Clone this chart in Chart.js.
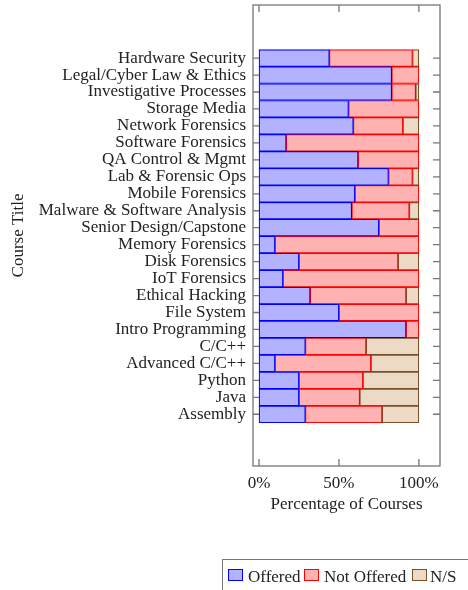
<!DOCTYPE html>
<html>
<head>
<meta charset="utf-8">
<script src="https://cdn.jsdelivr.net/npm/chart.js@4.4.1/dist/chart.umd.min.js"></script>
<style>
    html, body { margin: 0; padding: 0; background: #fff; overflow: hidden; }
    #wrap { position: relative; width: 468px; height: 590px; }
    #legend {
        position: absolute; left: 222px; top: 559px; width: 260px; height: 40px;
        border: 1.5px solid #777; box-sizing: border-box;
        font-family: 'Liberation Serif', serif; font-size: 17px; color: #222;
        white-space: nowrap;
    }
    #legend span.item { position: absolute; top: 7px; }
    #legend span.box { position: absolute; top: 9px; width: 13px; height: 10px; border: 1.2px solid; }
</style>
</head>
<body>
<div id="wrap">
    <canvas id="courseChart" width="468" height="590"></canvas>
    <div id="legend"></div>
</div>
<script>
// course titles, top to bottom
const courses = [
    'Hardware Security', 'Legal/Cyber Law & Ethics', 'Investigative Processes', 'Storage Media',
    'Network Forensics', 'Software Forensics', 'QA Control & Mgmt', 'Lab & Forensic Ops',
    'Mobile Forensics', 'Malware & Software Analysis', 'Senior Design/Capstone', 'Memory Forensics',
    'Disk Forensics', 'IoT Forensics', 'Ethical Hacking', 'File System', 'Intro Programming',
    'C/C++', 'Advanced C/C++', 'Python', 'Java', 'Assembly'
];
const offered    = [44, 83, 83, 56, 59, 17, 62, 81, 60, 58, 75, 10, 25, 15, 32, 50, 92, 29, 10, 25, 25, 29];
const notOffered = [52, 17, 15, 44, 31, 83, 38, 15, 40, 36, 25, 90, 62, 85, 60, 50,  8, 38, 60, 40, 38, 48];
const notStated  = [ 4,  0,  2,  0, 10,  0,  0,  4,  0,  6,  0,  0, 13,  0,  8,  0,  0, 33, 30, 35, 37, 23];
const xTicks = [0, 50, 100];

const seriesNames = ['Offered', 'Not Offered', 'N/S'];
const fills = ['rgb(178,178,255)', 'rgb(255,178,178)', 'rgb(236,218,199)'];
const strokes = ['#0000ff', '#ff0000', '#7a5028'];

const serif = 'Liberation Serif';
const textColor = '#222';

function toPoints(values) {
    return values.map((v, i) => ({ x: v, y: i }));
}

// pgfplots-style frame with inward tick marks
const framePlugin = {
    id: 'frame',
    beforeDatasetsDraw(chart) {
        const { ctx, chartArea: a, scales } = chart;
        ctx.save();
        ctx.strokeStyle = '#777';
        ctx.lineWidth = 1.3;
        ctx.strokeRect(a.left, a.top, a.right - a.left, a.bottom - a.top);
        ctx.beginPath();
        scales.x.ticks.forEach((t) => {
            const px = scales.x.getPixelForValue(t.value);
            ctx.moveTo(px, a.bottom); ctx.lineTo(px, a.bottom - 7);
            ctx.moveTo(px, a.top); ctx.lineTo(px, a.top + 7);
        });
        scales.y.ticks.forEach((t) => {
            const py = scales.y.getPixelForValue(t.value);
            ctx.moveTo(a.left, py); ctx.lineTo(a.left + 7, py);
            ctx.moveTo(a.right, py); ctx.lineTo(a.right - 7, py);
        });
        ctx.stroke();
        ctx.restore();
    },
};

const ctx = document.getElementById('courseChart').getContext('2d');
new Chart(ctx, {
    type: 'bar',
    data: {
        datasets: [offered, notOffered, notStated].map((values, k) => ({
            label: seriesNames[k],
            data: toPoints(values),
            backgroundColor: fills[k],
            borderColor: strokes[k],
            borderWidth: 1.2,
            borderSkipped: false,
            barPercentage: 1,
            categoryPercentage: 1,
        })),
    },
    options: {
        indexAxis: 'y',
        responsive: false,
        devicePixelRatio: 1,
        animation: false,
        layout: { padding: { left: 0, right: 28, top: 5, bottom: 74 } },
        plugins: {
            legend: { display: false },
            tooltip: { enabled: false },
        },
        scales: {
            x: {
                type: 'linear',
                stacked: true,
                min: -3.76,
                max: 113.2,
                afterBuildTicks: (scale) => { scale.ticks = xTicks.map((v) => ({ value: v })); },
                afterFit: (scale) => {
                    scale.height = 50;
                    scale.paddingLeft = 0;
                    scale.paddingRight = 0;
                },
                grid: { display: false, drawTicks: false },
                border: { display: false },
                ticks: {
                    padding: 7,
                    color: textColor,
                    font: { family: serif, size: 17 },
                    callback: (v) => v + '%',
                },
                title: {
                    display: true,
                    text: 'Percentage of Courses',
                    color: textColor,
                    font: { family: serif, size: 17 },
                    padding: { top: 0, bottom: 1 },
                },
            },
            y: {
                type: 'linear',
                stacked: true,
                reverse: true,
                offset: false,
                min: -3.13,
                max: 24.05,
                afterBuildTicks: (scale) => { scale.ticks = courses.map((c, i) => ({ value: i })); },
                afterFit: (scale) => {
                    scale.width = 253;
                    scale.paddingTop = 0;
                    scale.paddingBottom = 0;
                },
                grid: { display: false, drawTicks: false, offset: false },
                border: { display: false },
                ticks: {
                    padding: 7,
                    autoSkip: false,
                    color: textColor,
                    font: { family: serif, size: 17 },
                    callback: (v) => courses[v] ?? '',
                },
                title: {
                    display: true,
                    text: 'Course Title',
                    color: textColor,
                    font: { family: serif, size: 17 },
                    padding: { top: 8, bottom: 0 },
                },
            },
        },
    },
    plugins: [framePlugin],
});

// legend box below the chart
const legendPos = [[5, 25], [81, 101], [189, 207]];
document.getElementById('legend').innerHTML = seriesNames
    .map((name, k) => `
        <span class="box" style="left:${legendPos[k][0]}px;background:${fills[k]};border-color:${strokes[k]}"></span>
        <span class="item" style="left:${legendPos[k][1]}px">${name}</span>`)
    .join('');
</script>
</body>
</html>
